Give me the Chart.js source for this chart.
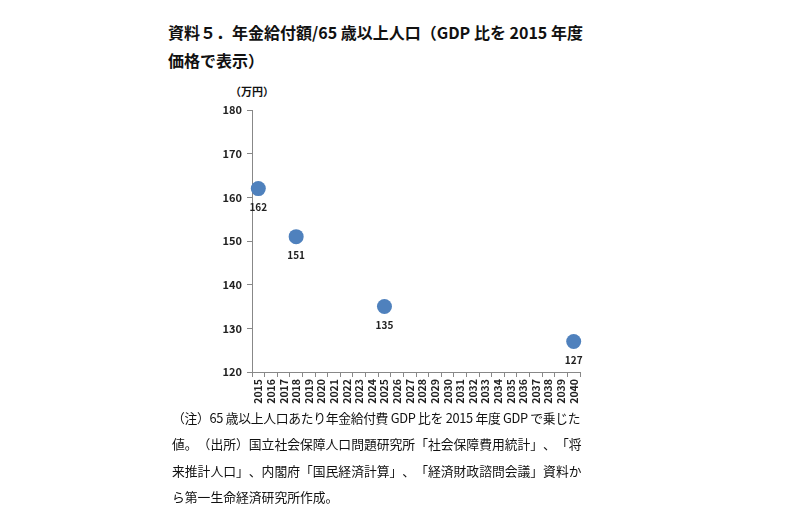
<!DOCTYPE html>
<html>
<head>
<meta charset="utf-8">
<script src="https://cdn.jsdelivr.net/npm/chart.js@4"></script>
<style>
  body { margin: 0; background: #fff; width: 799px; height: 524px; position: relative; overflow: hidden;
         font-family: "Noto Sans CJK JP", sans-serif; color: #111; text-spacing-trim: space-all; }
  .title { position: absolute; left: 168px; top: 18px; font-size: 16px; font-weight: bold; line-height: 28px; }
  .unit { position: absolute; left: 230px; top: 83px; font-size: 11px; font-weight: bold; }
  .note { position: absolute; left: 172px; top: 405px; font-size: 12.8px; line-height: 26.3px; white-space: nowrap; }
  .note .l1 { letter-spacing: -0.3px; }
  #wrap { position: absolute; left: 200px; top: 80px; width: 400px; height: 330px; }
</style>
</head>
<body>
<div class="title">資料５．年金給付額/65 歳以上人口（GDP 比を 2015 年度<br>価格で表示）</div>
<div class="unit">（万円）</div>
<div id="wrap"><canvas id="chart"></canvas></div>
<div class="note"><span class="l1">（注）65 歳以上人口あたり年金給付費 GDP 比を 2015 年度 GDP で乗じた</span><br>値。（出所）国立社会保障人口問題研究所「社会保障費用統計」、「将<br>来推計人口」、内閣府「国民経済計算」、「経済財政諮問会議」資料か<br>ら第一生命経済研究所作成。</div>
<script>
// 横軸の年（カテゴリ）
const years = ['2015', '2016', '2017', '2018', '2019', '2020', '2021', '2022', '2023', '2024', '2025', '2026', '2027',
  '2028', '2029', '2030', '2031', '2032', '2033', '2034', '2035', '2036', '2037', '2038', '2039', '2040'];
// 値のある年と年金給付額（万円）
const pointYears = ['2015', '2018', '2025', '2040'];
const values = [162, 151, 135, 127];

// 点の下に数値を描く
const pointLabels = {
  id: 'pointLabels',
  afterDatasetsDraw(chart) {
    const ctx = chart.ctx;
    const meta = chart.getDatasetMeta(0);
    ctx.save();
    ctx.font = 'bold 10px "Noto Sans CJK JP", sans-serif';
    ctx.fillStyle = '#222';
    ctx.textAlign = 'center';
    ctx.textBaseline = 'middle';
    meta.data.forEach((pt, i) => {
      ctx.fillText(String(values[i]), pt.x, pt.y + 19);
    });
    ctx.restore();
  }
};

const ctx = document.getElementById('chart').getContext('2d');
new Chart(ctx, {
  type: 'line',
  data: {
    labels: years,
    datasets: [{
      data: pointYears.map((y, i) => ({ x: y, y: values[i] })),
      showLine: false,
      pointRadius: 7.5,
      pointHoverRadius: 7.5,
      pointBackgroundColor: '#4F81BD',
      pointBorderColor: '#4F81BD',
      pointBorderWidth: 0
    }]
  },
  options: {
    responsive: true,
    maintainAspectRatio: false,
    animation: false,
    layout: { padding: { top: 30, right: 20, left: 0, bottom: 0 } },
    plugins: {
      legend: { display: false },
      tooltip: { enabled: false }
    },
    scales: {
      x: {
        type: 'category',
        offset: true,
        afterFit(scale) { scale.height = 38; },
        grid: { offset: true, drawOnChartArea: false, color: '#888', tickLength: 5 },
        border: { color: '#888' },
        ticks: {
          autoSkip: false, minRotation: 90, maxRotation: 90, padding: 2,
          color: '#222', font: { size: 10.5, weight: 'bold', family: '"Noto Sans CJK JP", sans-serif' }
        }
      },
      y: {
        min: 120,
        max: 180,
        afterFit(scale) { scale.width = 52; },
        grid: { drawOnChartArea: false, color: '#888', tickLength: 5 },
        border: { color: '#888' },
        ticks: {
          stepSize: 10, padding: 5,
          color: '#222', font: { size: 11, weight: 'bold', family: '"Noto Sans CJK JP", sans-serif' }
        }
      }
    }
  },
  plugins: [pointLabels]
});
</script>
</body>
</html>
